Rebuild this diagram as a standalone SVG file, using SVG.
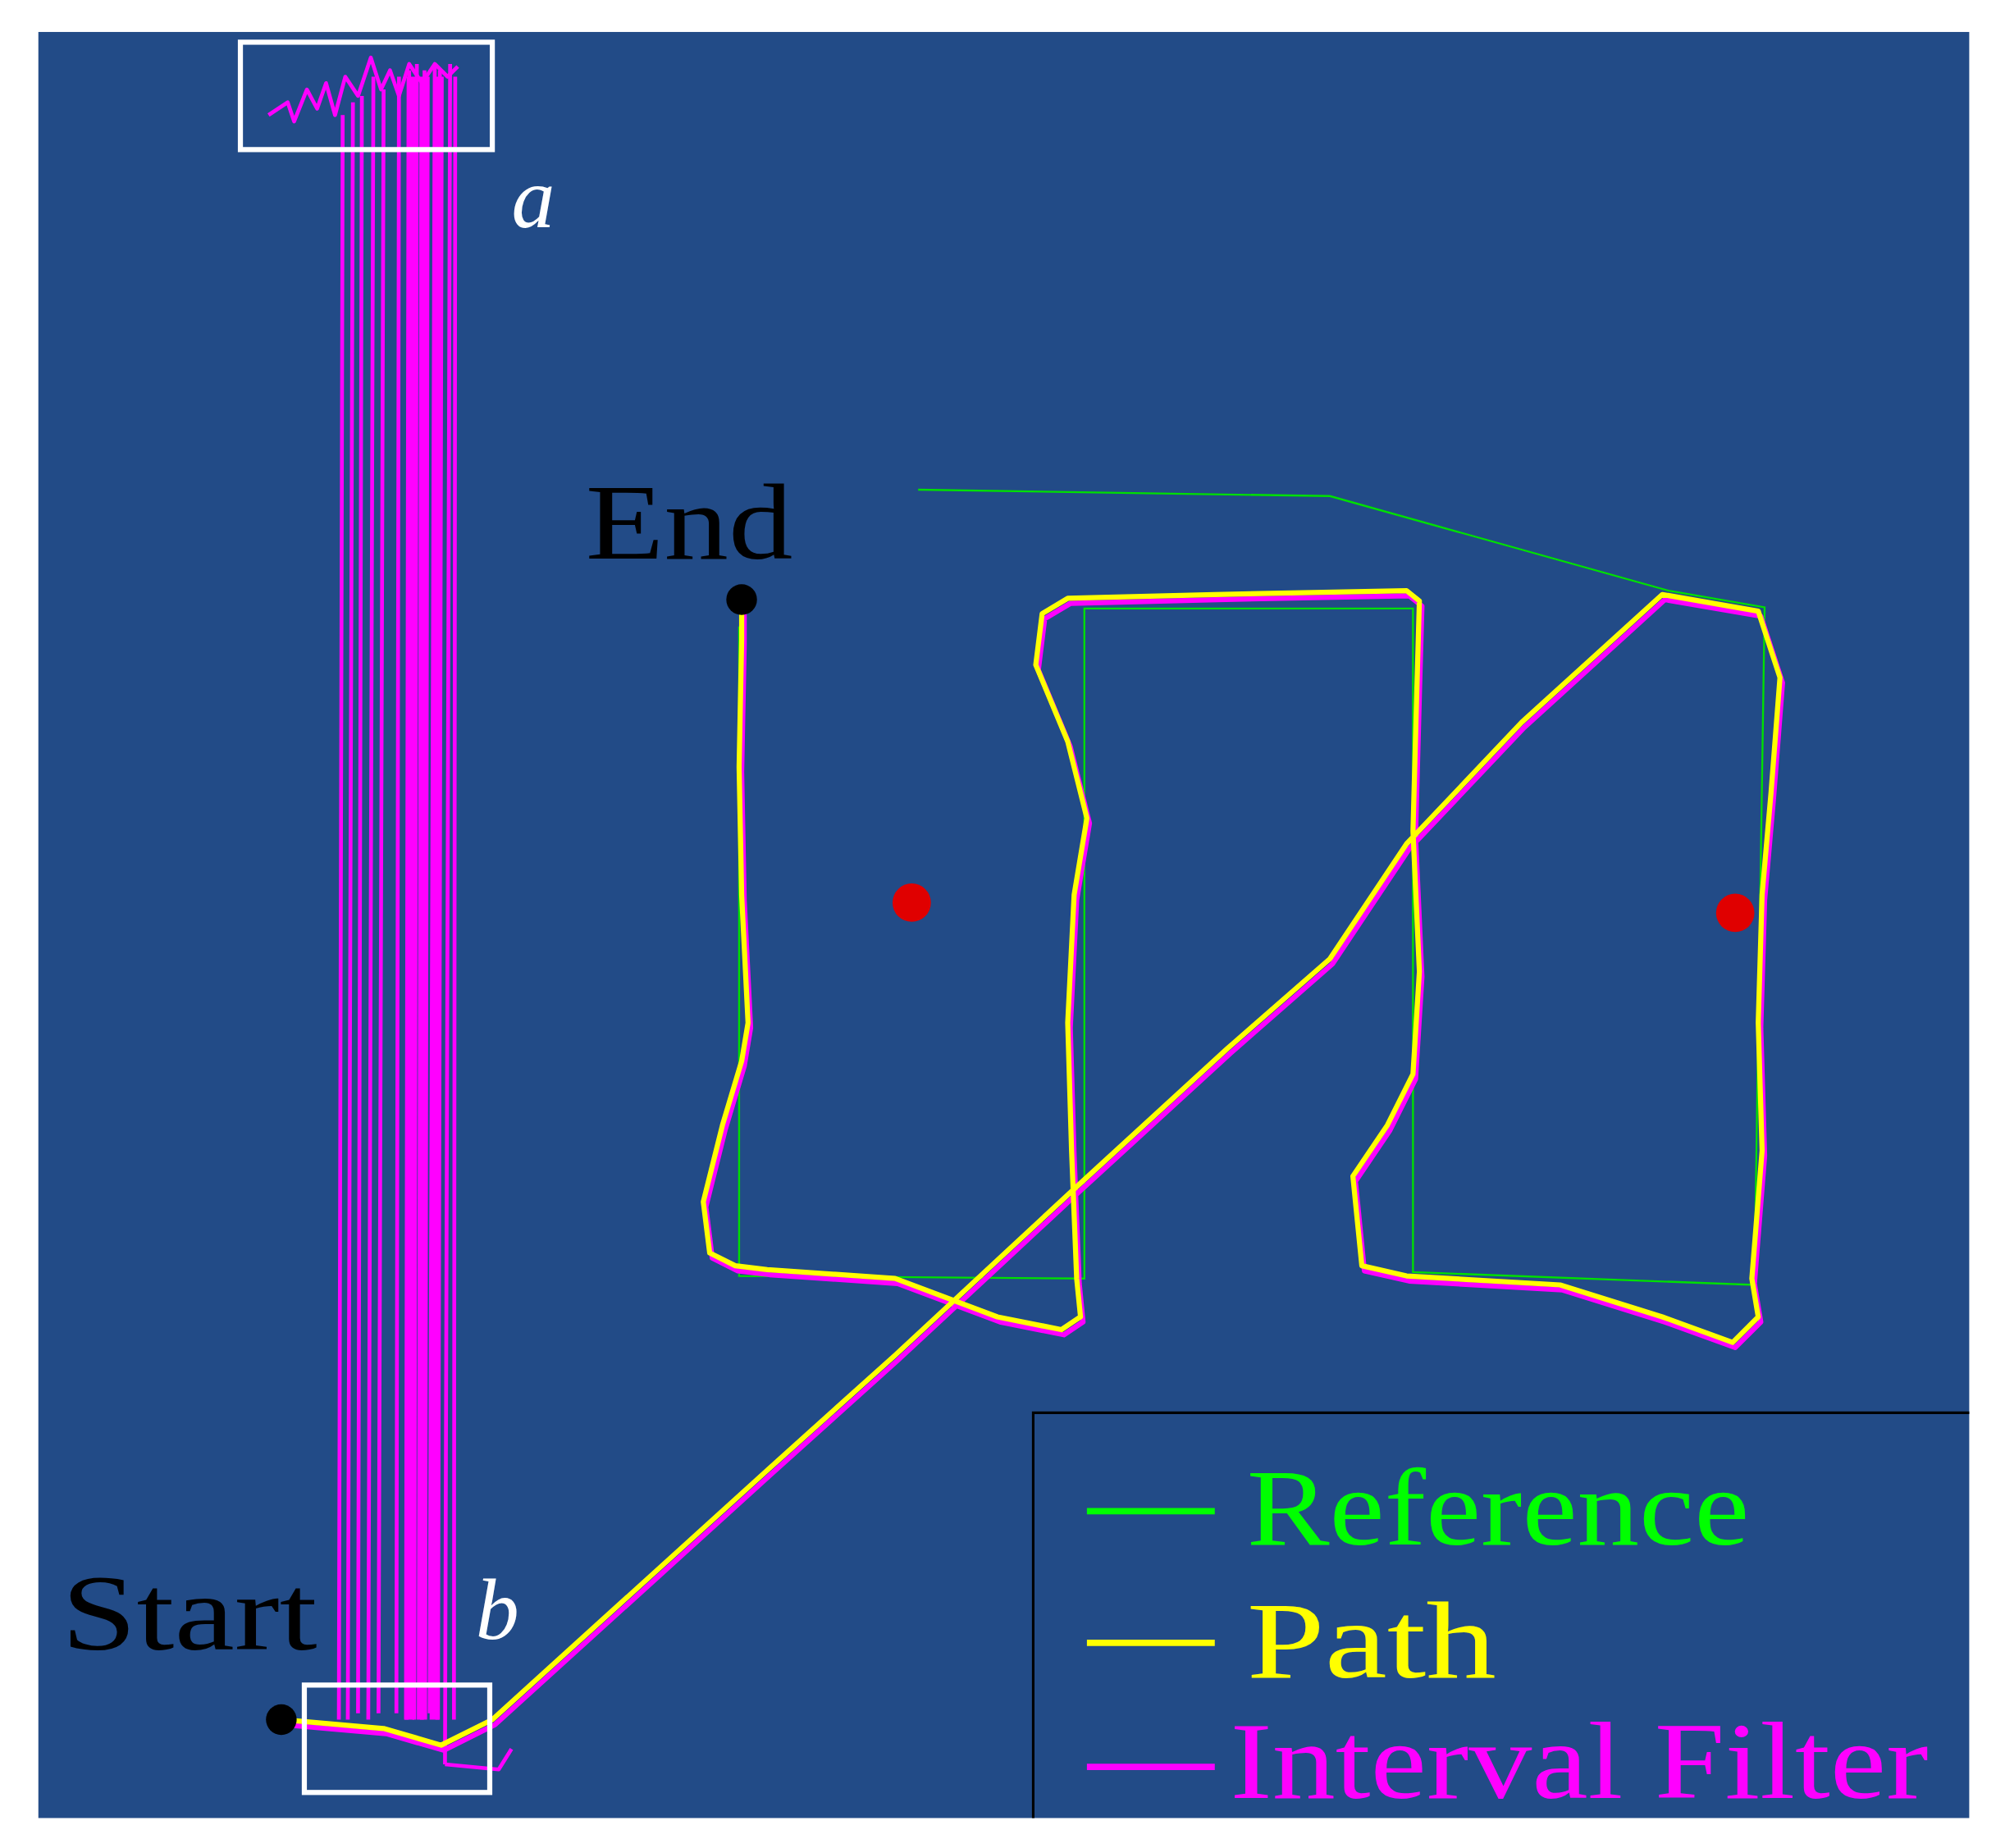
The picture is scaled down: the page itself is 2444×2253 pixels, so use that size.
<svg xmlns="http://www.w3.org/2000/svg" width="2444" height="2253" viewBox="0 0 2444 2253">
<style>
.lbl{font-family:"Liberation Serif",serif;fill:#000}
.it{font-family:"Liberation Serif",serif;font-style:italic;fill:#fff}
.box{fill:none;stroke:#fff;stroke-width:4}
.mag{fill:none;stroke:#ff00ff;stroke-linejoin:round}
.yel{fill:none;stroke:#ffff00;stroke-width:4;stroke-linejoin:round}
.grn{fill:none;stroke:#00e000;stroke-width:1.5}
</style>
<defs>
<polyline id="trk" points="220,1345 300,1352 345,1365 385,1345 600,1150 700,1060 840,930 960,820 1040,750 1100,660 1190,565 1300,465 1375,478 1392,530 1385,620 1378,700 1375,800 1378,900 1370,1000 1375,1030 1355,1050 1300,1030 1220,1005 1100,998 1065,990 1058,920 1085,880 1105,840 1110,760 1105,650 1108,540 1110,470 1100,462 950,465 835,468 815,480 810,520 835,580 850,640 840,700 835,800 838,900 842,1000 845,1030 830,1040 780,1030 700,1000 600,993 575,990 555,980 550,940 565,880 580,830 585,800 580,700 578,600 580,500 580,470"/>
</defs>
<rect width="2444" height="2253" fill="#fff"/>
<g transform="scale(1.5587)">
<rect x="30" y="25" width="1510" height="1397" fill="#224b87"/>
<g id="connectors">
<polyline class="grn" points="718,383 1040,388 1305,462 1380,475 1372,1005 1105,995 1105,476 848,476 848,1000 578,998 578,490"/>
<g class="mag" stroke-width="3">
<path d="M265,1345 L268,90 M272,1345 L276,80 M280,1340 L283,75 M288,1345 L292,60 M296,1340 L300,70 M310,1340 L312,60 M318,1345 L320,55 M324,1345 L326,50 M330,1345 L332,55 M336,1340 L340,50 M342,1345 L344,55 M348,1380 L352,50 M355,1345 L356,60"/>
<path stroke-width="8" d="M320,1345 L322,60 M330,1345 L332,60 M340,1345 L343,60"/>
<polyline points="210,90 225,80 230,95 240,70 248,85 255,65 262,90 270,60 280,75 290,45 298,70 305,55 312,75 320,50 330,65 340,50 350,60 358,52"/>
<polyline points="348,1380 390,1384 400,1368"/>
<use href="#trk" stroke-width="4" transform="translate(2,4)"/>
</g>
<use href="#trk" class="yel"/>
</g>
<g id="box-a"><rect class="box" x="188" y="33" width="197" height="84"/><text class="it" x="400" y="178" font-size="68">a</text></g>
<g id="box-b"><rect class="box" x="238" y="1318" width="145" height="84"/><text class="it" x="372" y="1282" font-size="68">b</text></g>
<g id="end"><text class="lbl" x="458" y="437" font-size="84" textLength="162" lengthAdjust="spacingAndGlyphs">End</text><circle cx="580" cy="469" r="12" fill="#000"/></g>
<g id="start"><text class="lbl" x="48" y="1290" font-size="84" textLength="200" lengthAdjust="spacingAndGlyphs">Start</text><circle cx="220" cy="1345" r="12" fill="#000"/></g>
<g id="targets"><circle cx="713" cy="706" r="15" fill="#e00000"/><circle cx="1357" cy="714" r="15" fill="#e00000"/></g>
<g id="legend">
<path d="M808,1422 V1105 H1540" fill="none" stroke="#000" stroke-width="2"/>
<line x1="850" y1="1182" x2="950" y2="1182" stroke="#00ff00" stroke-width="5"/>
<line x1="850" y1="1285" x2="950" y2="1285" stroke="#ffff00" stroke-width="5"/>
<line x1="850" y1="1382" x2="950" y2="1382" stroke="#ff00ff" stroke-width="5"/>
<text class="lbl" x="975" y="1208" font-size="86" textLength="393" lengthAdjust="spacingAndGlyphs" style="fill:#00ff00">Reference</text>
<text class="lbl" x="975" y="1312" font-size="86" textLength="195" lengthAdjust="spacingAndGlyphs" style="fill:#ffff00">Path</text>
<text class="lbl" x="962" y="1406" font-size="86" textLength="546" lengthAdjust="spacingAndGlyphs" style="fill:#ff00ff">Interval Filter</text>
</g>
</g>
</svg>
